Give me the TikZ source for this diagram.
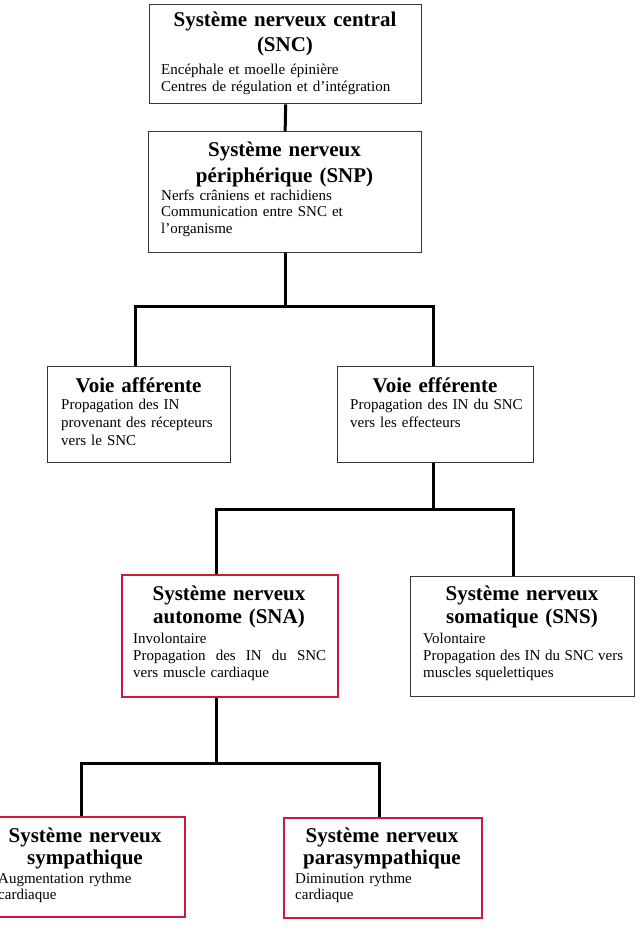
\documentclass[tikz,border=0pt]{standalone}
\usepackage{fontspec}
\setmainfont{Liberation Serif}
\definecolor{boxred}{RGB}{208,24,56}
\definecolor{framegray}{RGB}{55,55,50}
\begin{document}
\begin{tikzpicture}[x=1pt,y=-1pt,
  frame/.style={draw=framegray, line width=1.3pt, fill=white, inner sep=0pt, anchor=north west},
  redframe/.style={frame, draw=boxred, line width=2pt},
  ttl/.style={font=\fontsize{21}{25}\selectfont\bfseries, text width=#1, align=center, inner sep=0pt, anchor=base},
  bdy/.style={font=\fontsize{15}{16.7}\selectfont, text width=#1, align=left, inner sep=0pt, anchor=base west},
  conn/.style={line width=3pt, draw=black}
]
\useasboundingbox (0,0) rectangle (643,939);

% boxes
\node[frame, minimum width=272pt, minimum height=99pt] (snc) at (149,4) {};
\node[frame, minimum width=273pt, minimum height=121pt] (snp) at (148,131) {};
\node[frame, minimum width=183pt, minimum height=96pt] (aff) at (47,366) {};
\node[frame, minimum width=196pt, minimum height=96pt] (eff) at (337,366) {};
\node[redframe, minimum width=216pt, minimum height=122pt] (sna) at (121,574) {};
\node[frame, minimum width=224pt, minimum height=120pt] (sns) at (410,576) {};
\node[redframe, minimum width=198pt, minimum height=100pt] (sym) at (-14,816) {};
\node[redframe, minimum width=198pt, minimum height=100pt] (par) at (283,817) {};

% texts
\node[ttl=260pt] (snct) at (285,27) {Système nerveux central\\(SNC)};
\node[bdy=255pt] (sncb) at (161,75) {Encéphale et moelle épinière\\Centres de régulation et d’intégration};

\node[ttl=260pt] (snpt) at (284.5,157) {Système nerveux\\périphérique (SNP)};
\node[bdy=255pt] (snpb) at (161,200) {Nerfs crâniens et rachidiens\\Communication entre SNC et\\l’organisme};

\node[ttl=180pt] (afft) at (138.5,392) {Voie afférente};
\node[bdy=170pt, font=\fontsize{15}{18}\selectfont] (affb) at (61,409) {Propagation des IN\\provenant des récepteurs\\vers le SNC};

\node[ttl=190pt] (efft) at (435,392) {Voie efférente};
\node[bdy=180pt, font=\fontsize{15}{18}\selectfont] (effb) at (350,409) {Propagation des IN du SNC\\vers les effecteurs};

\node[ttl=210pt, font=\fontsize{21}{23}\selectfont\bfseries] (snat) at (229,600) {Système nerveux\\autonome (SNA)};
\node[bdy=200pt, font=\fontsize{15}{17}\selectfont] (snab) at (133,643) {Involontaire\par\leavevmode\hbox to 193pt{Propagation\hfill des\hfill IN\hfill du\hfill SNC}\par vers muscle cardiaque};

\node[ttl=220pt, font=\fontsize{21}{23}\selectfont\bfseries] (snst) at (522,600) {Système nerveux\\somatique (SNS)};
\node[bdy=200pt, align=justify, font=\fontsize{15}{17}\selectfont] (snsb) at (423,643) {Volontaire\par Propagation des IN du SNC vers muscles squelettiques};

\node[ttl=195pt, font=\fontsize{21}{22}\selectfont\bfseries] (symt) at (85,842) {Système nerveux\\sympathique};
\node[bdy=180pt, font=\fontsize{15}{16}\selectfont] (symb) at (-2,883) {Augmentation rythme\\cardiaque};

\node[ttl=195pt, font=\fontsize{21}{22}\selectfont\bfseries] (part) at (382,842) {Système nerveux\\parasympathique};
\node[bdy=180pt, font=\fontsize{15}{16}\selectfont] (parb) at (295,883) {Diminution rythme\\cardiaque};

% connectors
\draw[conn] (snc.south) -- (snp.north);
\path (snp.south) ++(0,53) coordinate (j1);
\draw[conn] (snp.south) -- (j1);
\draw[conn] ([xshift=-3.5pt]aff.north) |- (j1) -| ([xshift=-2pt]eff.north);

\path ([xshift=-2pt]eff.south) ++(0,46) coordinate (j2);
\draw[conn] ([xshift=-2pt]eff.south) -- (j2);
\draw[conn] ([xshift=-14pt]sna.north) |- (j2) -| ([xshift=-9pt]sns.north);

\path ([xshift=-14pt]sna.south) ++(0,65) coordinate (j3);
\draw[conn] ([xshift=-14pt]sna.south) -- (j3);
\draw[conn] ([xshift=-5pt]sym.north) |- (j3) -| ([xshift=-4pt]par.north);
\end{tikzpicture}
\end{document}
